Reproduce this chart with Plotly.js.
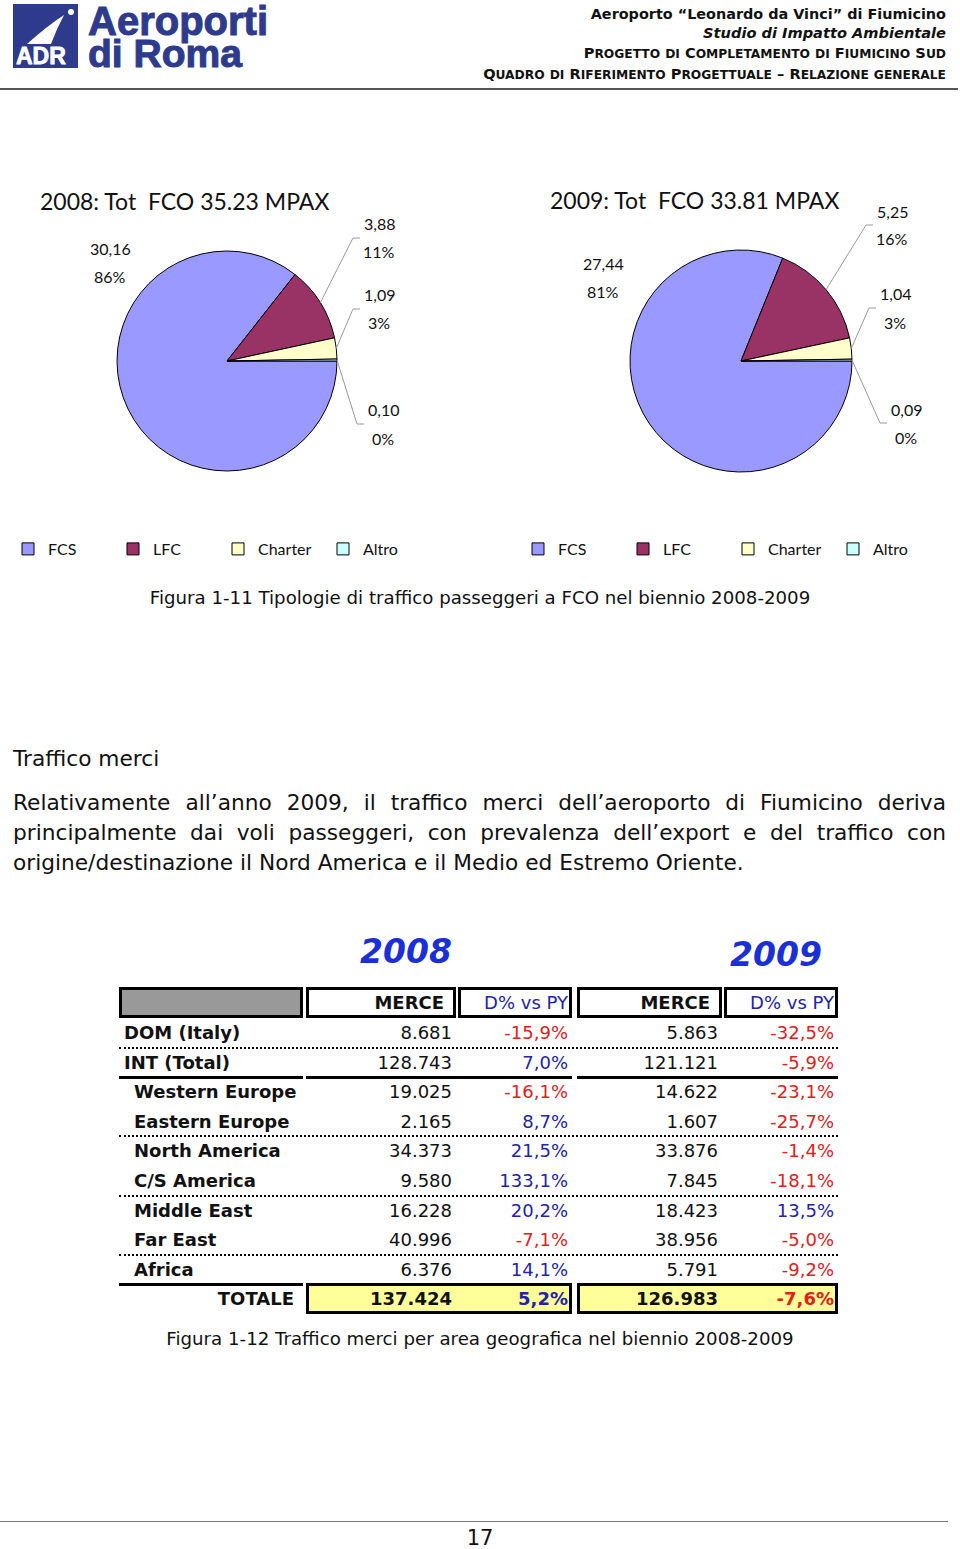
<!DOCTYPE html>
<html>
<head>
<meta charset="utf-8">
<script src="https://cdn.plot.ly/plotly-3.0.1.min.js"></script>
<style>
  body { margin: 0; width: 960px; height: 1549px; position: relative; background: #fff; overflow: hidden; color: #111; }
  .abs { position: absolute; white-space: nowrap; }
  .tah { font-family: 'DejaVu Sans', Verdana, sans-serif; }
  .just { text-align: justify; text-align-last: justify; width: 933px; left: 13px; }
  .logo { font-family: 'Liberation Sans', Arial, sans-serif; font-weight: bold; color: #2E3A8C; -webkit-text-stroke: 1px #2E3A8C; }
</style>
</head>
<body>

<!-- header -->
<svg class="abs" style="left:13px;top:4px" width="65" height="64" viewBox="0 0 65 64">
  <rect width="65" height="64" fill="#2E3A8C"/>
  <path d="M14 40 Q34 22 51 11 Q44 24 38 40 Z" fill="#fff"/>
  <circle cx="58" cy="8" r="3" fill="#fff"/>
  <text x="3" y="60" style="font-family:'Liberation Sans',Arial;font-weight:bold;font-size:23px" fill="#fff" stroke="#fff" stroke-width="0.8">ADR</text>
</svg>
<div class="abs logo" style="left:88px;top:4px;font-size:40px;line-height:34px">Aeroporti</div>
<div class="abs logo" style="left:88px;top:37px;font-size:39px;line-height:33px">di Roma</div>

<div class="abs tah" style="right:14px;top:4px;font-size:14.4px;line-height:20px;font-weight:bold">Aeroporto “Leonardo da Vinci” di Fiumicino</div>
<div class="abs tah" style="right:14px;top:23px;font-size:14.6px;line-height:20px;font-weight:bold;font-style:italic">Studio di Impatto Ambientale</div>
<div id="hdr3" class="abs tah" style="right:14px;top:43px;font-size:14.6px;line-height:20px;font-weight:bold">Progetto di Completamento di Fiumicino Sud</div>
<div id="hdr4" class="abs tah" style="right:14px;top:64px;font-size:14.6px;line-height:20px;font-weight:bold">Quadro di Riferimento Progettuale – Relazione generale</div>
<div class="abs" style="left:0;top:88px;width:958px;height:2px;background:#555"></div>

<!-- passenger pies -->
<div id="pies" class="abs" style="left:0;top:180px;width:960px;height:400px"></div>

<div class="abs tah" style="left:0;width:960px;text-align:center;top:585px;font-size:18.2px;line-height:26px">Figura 1-11 Tipologie di traffico passeggeri a FCO nel biennio 2008-2009</div>

<div class="abs tah" style="left:13px;top:744px;font-size:21.7px;line-height:30px">Traffico merci</div>
<div class="abs tah just" style="top:788px;font-size:21.7px;line-height:30px">Relativamente all’anno 2009, il traffico merci dell’aeroporto di Fiumicino deriva</div>
<div class="abs tah just" style="top:818px;font-size:21.7px;line-height:30px">principalmente dai voli passeggeri, con prevalenza dell’export e del traffico con</div>
<div class="abs tah" style="left:13px;top:848px;font-size:21.7px;line-height:30px">origine/destinazione il Nord America e il Medio ed Estremo Oriente.</div>

<!-- cargo table -->
<div id="table"></div>

<div class="abs tah" style="left:0;width:960px;text-align:center;top:1326px;font-size:18.2px;line-height:26px">Figura 1-12 Traffico merci per area geografica nel biennio 2008-2009</div>

<!-- footer -->
<div class="abs" style="left:0;top:1521px;width:948px;height:1px;background:#777"></div>
<div class="abs tah" style="left:0;width:960px;text-align:center;top:1523px;font-size:21px;line-height:30px">17</div>

<script>
// passenger traffic (millions of pax) by type
const categories = ['FCS', 'LFC', 'Charter', 'Altro'];
const pax2008 = [30.16, 3.88, 1.09, 0.10];
const pax2009 = [27.44, 5.25, 1.04, 0.09];
const paxYears = ['2008', '2009'];
const paxTotals = [35.23, 33.81];
const sliceColors = ['#9999FF', '#993366', '#FFFFCC', '#CCFFFF'];

// cargo traffic by geographic area
const regions = ['DOM (Italy)', 'INT (Total)', 'Western Europe', 'Eastern Europe', 'North America',
  'C/S America', 'Middle East', 'Far East', 'Africa'];
const merce2008 = [8681, 128743, 19025, 2165, 34373, 9580, 16228, 40996, 6376];
const delta2008 = [-15.9, 7.0, -16.1, 8.7, 21.5, 133.1, 20.2, -7.1, 14.1];
const merce2009 = [5863, 121121, 14622, 1607, 33876, 7845, 18423, 38956, 5791];
const delta2009 = [-32.5, -5.9, -23.1, -25.7, -1.4, -18.1, 13.5, -5.0, -9.2];
const totalMerce = [137424, 126983];
const totalDelta = [5.2, -7.6];
const tableYears = ['2008', '2009'];

// small caps header lines (lowercase letters drawn as smaller capitals)
['hdr3', 'hdr4'].forEach(id => {
  const el = document.getElementById(id);
  el.innerHTML = el.textContent.replace(/[a-zà-ù]+/g,
    m => `<span style="font-size:0.84em">${m.toUpperCase()}</span>`);
});

// ---- pies ----
const PIE_TOP = 180, PIE_W = 960, PIE_H = 400;
const px = x => x / PIE_W;
const py = y => 1 - (y - PIE_TOP) / PIE_H;

const pieGeom = [
  { cx: 227, cy: 361, r: 110, titleX: 38, titleY: 201, legendX: 8,
    labelPos: [[110, 262], [379, 238], [379, 309], [383, 424]] },
  { cx: 741, cy: 361, r: 111, titleX: 548, titleY: 200, legendX: 518,
    labelPos: [[603, 277], [892, 225], [895, 308], [906, 423]] }
];
const paxValues = [pax2008, pax2009];

const fmtDec = v => v.toFixed(2).replace('.', ',');
const labelFont = { family: 'Lato, sans-serif', size: 16, color: '#111' };

const traces = [];
const annotations = [];
const shapes = [];

paxValues.forEach((values, p) => {
  const g = pieGeom[p];
  traces.push({
    type: 'pie',
    // pie legends merge equal labels across traces, so the second pie gets an invisible suffix
    labels: categories.map(c => c + '\u200b'.repeat(p)),
    values: values,
    sort: false,
    direction: 'clockwise',
    rotation: 90,
    textinfo: 'none',
    hoverinfo: 'label+value+percent',
    marker: { colors: sliceColors, line: { color: '#000', width: 1 } },
    domain: { x: [px(g.cx - g.r), px(g.cx + g.r)], y: [py(g.cy + g.r), py(g.cy - g.r)] },
    legend: p === 0 ? 'legend' : 'legend2'
  });

  annotations.push({
    text: `${paxYears[p]}: Tot\u00a0\u00a0FCO ${paxTotals[p].toFixed(2)} MPAX`,
    x: px(g.titleX), y: py(g.titleY), xref: 'paper', yref: 'paper',
    xanchor: 'left', yanchor: 'middle', showarrow: false,
    font: { family: 'Lato, sans-serif', size: 23, color: '#111' }
  });

  const total = values.reduce((a, b) => a + b, 0);
  let cum = 0;
  values.forEach((v, k) => {
    const frac = v / total;
    const mid = 2 * Math.PI * (cum + frac / 2);
    cum += frac;
    const [lx, ly] = g.labelPos[k];
    annotations.push({
      text: fmtDec(v), x: px(lx), y: py(ly - 14), xref: 'paper', yref: 'paper',
      xanchor: 'center', yanchor: 'middle', showarrow: false, font: labelFont
    });
    annotations.push({
      text: Math.round(frac * 100) + '%', x: px(lx), y: py(ly + 14), xref: 'paper', yref: 'paper',
      xanchor: 'center', yanchor: 'middle', showarrow: false, font: labelFont
    });
    if (k > 0) {
      // leader line from the slice edge to the label
      const sx = g.cx + g.r * Math.cos(mid), sy = g.cy + g.r * Math.sin(mid);
      shapes.push({
        type: 'path', xref: 'paper', yref: 'paper',
        path: `M${px(sx)},${py(sy)} L${px(lx - 26)},${py(ly)} L${px(lx - 19)},${py(ly)}`,
        line: { color: '#9a9a9a', width: 1 }
      });
    }
  });
});

const legendBase = {
  orientation: 'h', xanchor: 'left', yanchor: 'middle', y: py(549),
  font: { family: 'Lato, sans-serif', size: 16, color: '#111' },
  bgcolor: 'rgba(0,0,0,0)', entrywidth: 60, entrywidthmode: 'pixels',
  itemclick: false, itemdoubleclick: false
};

const layout = {
  width: PIE_W, height: PIE_H,
  margin: { t: 0, r: 0, b: 0, l: 0 },
  paper_bgcolor: '#fff',
  showlegend: true,
  legend: Object.assign({}, legendBase, { x: px(pieGeom[0].legendX) }),
  legend2: Object.assign({}, legendBase, { x: px(pieGeom[1].legendX) }),
  annotations: annotations,
  shapes: shapes
};

Plotly.newPlot('pies', traces, layout, { displayModeBar: false, staticPlot: true });

// ---- table ----
const fmtInt = v => String(v).replace(/\B(?=(\d{3})+(?!\d))/g, '.');
const fmtPct = v => v.toFixed(1).replace('.', ',') + '%';
const pctColor = v => (v < 0 ? '#E0201B' : '#2323A8');

const colL = [119, 306, 458, 577, 724];
const colR = [303, 456, 572, 722, 838];
const HEAD_TOP = 987, HEAD_H = 31;
const ROW_TOP = 1018, ROW_H = 29.6;
const table = document.getElementById('table');

function box(left, top, width, height, css) {
  const d = document.createElement('div');
  d.className = 'abs';
  d.style.cssText += `left:${left}px;top:${top}px;width:${width}px;height:${height}px;` + (css || '');
  table.appendChild(d);
  return d;
}
function text(str, left, top, width, height, css) {
  const d = box(left, top, width, height,
    `line-height:${height}px;font-size:18px;` + (css || ''));
  d.classList.add('tah');
  d.textContent = str;
  return d;
}

// year titles
const yearCenters = [406, 776];
const yearTops = [933, 936];
tableYears.forEach((y, i) => {
  const d = box(yearCenters[i] - 80, yearTops[i], 160, 38,
    "text-align:center;font-family:'DejaVu Sans';font-weight:bold;font-style:italic;font-size:33px;line-height:38px;color:#1B2FD6");
  d.textContent = y;
});

// header row
box(colL[0], HEAD_TOP, colR[0] - colL[0], HEAD_H, 'box-sizing:border-box;border:3px solid #000;background:#999');
for (let c = 1; c <= 4; c++) {
  box(colL[c], HEAD_TOP, colR[c] - colL[c], HEAD_H, 'box-sizing:border-box;border:3px solid #000;background:#fff');
  if (c % 2 === 1) {
    text('MERCE', colL[c], HEAD_TOP, colR[c] - colL[c] - 12, HEAD_H, 'text-align:right;font-weight:bold;color:#111');
  } else {
    text('D% vs PY', colL[c], HEAD_TOP, colR[c] - colL[c] - 4, HEAD_H, 'text-align:right;color:#2323A8');
  }
}

// body rows
regions.forEach((name, i) => {
  const top = ROW_TOP + i * ROW_H;
  const indent = i < 2 ? 5 : 15;
  text(name, colL[0] + indent, top, colR[0] - colL[0] - indent, ROW_H, 'font-weight:bold;color:#111');
  const vals = [
    [fmtInt(merce2008[i]), '#111'], [fmtPct(delta2008[i]), pctColor(delta2008[i])],
    [fmtInt(merce2009[i]), '#111'], [fmtPct(delta2009[i]), pctColor(delta2009[i])]
  ];
  vals.forEach(([s, col], c) => {
    text(s, colL[c + 1], top, colR[c + 1] - colL[c + 1] - 4, ROW_H, `text-align:right;color:${col}`);
  });
});

// dotted separators after DOM, Eastern Europe, C/S America, Far East
[0, 3, 5, 7].forEach(i => {
  box(colL[0], ROW_TOP + (i + 1) * ROW_H - 1, colR[4] - colL[0], 0, 'border-top:2px dotted #000');
});
// solid rule after INT (Total)
[[0, 0], [1, 2], [3, 4]].forEach(([a, b]) => {
  box(colL[a], ROW_TOP + 2 * ROW_H - 1, colR[b] - colL[a], 3, 'background:#000');
});

// totals row
const totTop = ROW_TOP + regions.length * ROW_H;
box(colL[0], totTop - 1, colR[0] - colL[0], 3, 'background:#000');
text('TOTALE', colL[0], totTop, colR[0] - colL[0] - 9, ROW_H, 'text-align:right;font-weight:bold;color:#111');
totalMerce.forEach((v, y) => {
  const a = 1 + 2 * y, b = a + 1;
  box(colL[a], totTop - 1, colR[b] - colL[a], ROW_H + 1, 'box-sizing:border-box;border:3px solid #000;background:#FFFF99');
  text(fmtInt(v), colL[a], totTop, colR[a] - colL[a] - 4, ROW_H, 'text-align:right;font-weight:bold;color:#111');
  text(fmtPct(totalDelta[y]), colL[b], totTop, colR[b] - colL[b] - 4, ROW_H,
    `text-align:right;font-weight:bold;color:${pctColor(totalDelta[y])}`);
});
</script>
</body>
</html>
